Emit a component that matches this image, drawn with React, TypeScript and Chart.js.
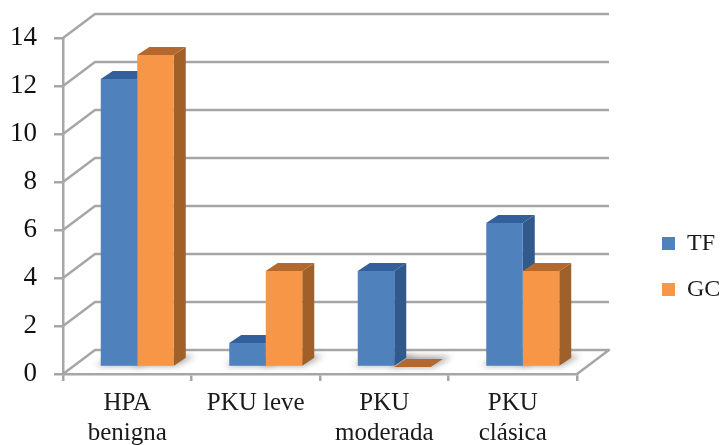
import React, { useEffect, useRef } from "react";
import { Chart, registerables } from "chart.js";

Chart.register(...registerables);

const categories = [["HPA", "benigna"], "PKU leve", ["PKU", "moderada"], ["PKU", "clásica"]];
const tfValues = [12, 1, 4, 6];
const gcValues = [13, 4, 0, 4];

const tickMax = 14;
const tickStep = 2;

const gridColor = "#a6a6a6";
const faceColors = ["#4f81bd", "#f79646"];
const sideColors = ["#31598c", "#a0602a"];
const topColors = ["#33609a", "#b4682e"];

// Projection of the box: how far the back wall sits from the front plane,
// where the bars stand inside it, and how deep each bar is.
const wall = { dx: 32, dy: -24 };
const inset = { dx: 10, dy: -7 };
const barDepth = { dx: 12, dy: -8 };
const legendDrop = 25;

const polygon = (ctx: CanvasRenderingContext2D, pts: number[][], fill: string) => {
  ctx.beginPath();
  pts.forEach(([x, y], i) => (i ? ctx.lineTo(x, y) : ctx.moveTo(x, y)));
  ctx.closePath();
  ctx.fillStyle = fill;
  ctx.fill();
};

const box3d = {
  id: "box3d",
  afterLayout(chart: any) {
    // The legend sits lower than the centre of its column
    chart.legend.top += legendDrop;
    chart.legend.bottom += legendDrop;
  },
  beforeDatasetsDraw(chart: any) {
    const { ctx, chartArea, scales } = chart;
    const { left, right } = chartArea;

    // Back wall and floor lines, one per tick value
    ctx.save();
    ctx.strokeStyle = gridColor;
    ctx.lineWidth = 2.5;
    ctx.lineJoin = "round";
    for (const tick of scales.y.ticks) {
      const y = scales.y.getPixelForValue(tick.value);
      ctx.beginPath();
      ctx.moveTo(left, y);
      ctx.lineTo(left + wall.dx, y + wall.dy);
      ctx.lineTo(right + wall.dx, y + wall.dy);
      if (tick.value === 0) ctx.lineTo(right, y);
      ctx.stroke();
    }
    ctx.restore();

    ctx.save();
    ctx.translate(inset.dx, inset.dy);

    // Soft contact shadows on the floor
    ctx.save();
    ctx.filter = "blur(3px)";
    chart.data.datasets.forEach((_: any, d: number) => {
      chart.getDatasetMeta(d).data.forEach((bar: any) => {
        const l = bar.x - bar.width / 2;
        const r = bar.x + bar.width / 2;
        const b = bar.base;
        polygon(
          ctx,
          [
            [l - 5, b],
            [r + 2, b],
            [r + barDepth.dx + 9, b + barDepth.dy - 2],
            [l + barDepth.dx + 3, b + barDepth.dy - 3],
          ],
          "rgba(90,90,90,0.55)"
        );
      });
    });
    ctx.restore();

    // Side and top faces; the front faces come from the bar elements themselves
    chart.data.datasets.forEach((_: any, d: number) => {
      chart.getDatasetMeta(d).data.forEach((bar: any) => {
        const l = bar.x - bar.width / 2;
        const r = bar.x + bar.width / 2;
        const { y, base } = bar;
        polygon(
          ctx,
          [
            [r, y],
            [r + barDepth.dx, y + barDepth.dy],
            [r + barDepth.dx, base + barDepth.dy],
            [r, base],
          ],
          sideColors[d]
        );
        polygon(
          ctx,
          [
            [l, y],
            [l + barDepth.dx, y + barDepth.dy],
            [r + barDepth.dx, y + barDepth.dy],
            [r, y],
          ],
          topColors[d]
        );
      });
    });
  },
  afterDatasetsDraw(chart: any) {
    chart.ctx.restore();
  },
};

export default function App() {
  const canvasRef = useRef<HTMLCanvasElement>(null);

  useEffect(() => {
    const chart = new Chart(canvasRef.current!, {
      type: "bar",
      data: {
        labels: categories as any,
        datasets: [
          { label: "TF", data: tfValues, backgroundColor: faceColors[0] },
          { label: "GC", data: gcValues, backgroundColor: faceColors[1] },
        ],
      },
      plugins: [box3d],
      options: {
        responsive: false,
        animation: false,
        layout: { padding: { top: 38, left: 0, right: 0, bottom: 0 } },
        datasets: { bar: { categoryPercentage: 0.568, barPercentage: 1 } },
        plugins: {
          tooltip: { enabled: false },
          legend: {
            position: "right",
            maxWidth: 83,
            labels: {
              boxWidth: 13,
              boxHeight: 13,
              padding: 22,
              color: "#1a1a1a",
              font: { family: "'Liberation Serif', serif", size: 24 },
            },
          },
        },
        scales: {
          x: {
            afterFit: (s: any) => {
              s.height = 71;
            },
            grid: { drawOnChartArea: false, color: gridColor, lineWidth: 2.5, tickLength: 7 },
            border: { color: gridColor, width: 2.5 },
            ticks: {
              color: "#1a1a1a",
              padding: 8,
              maxRotation: 0,
              autoSkip: false,
              font: { family: "'Liberation Serif', serif", size: 25, lineHeight: 1.18 },
            },
          },
          y: {
            min: 0,
            max: tickMax,
            afterFit: (s: any) => {
              s.width = 63;
            },
            grid: { drawOnChartArea: false, color: gridColor, lineWidth: 2.5, tickLength: 9 },
            border: { color: gridColor, width: 2.5 },
            ticks: {
              stepSize: tickStep,
              color: "#111111",
              padding: 17,
              font: { family: "'Liberation Serif', serif", size: 27 },
            },
          },
          // Empty axis that holds the space between the plot and the legend
          spacer: {
            type: "linear",
            axis: "y",
            position: "right",
            afterFit: (s: any) => {
              s.width = 63;
            },
            grid: { display: false },
            border: { display: false },
            ticks: { display: false },
          },
        },
      } as any,
    });
    return () => chart.destroy();
  }, []);

  return (
    <div style={{ position: "absolute", left: 0, top: 0, width: 723, height: 445, background: "#fff" }}>
      <canvas ref={canvasRef} width={723} height={445} style={{ display: "block" }} />
    </div>
  );
}
